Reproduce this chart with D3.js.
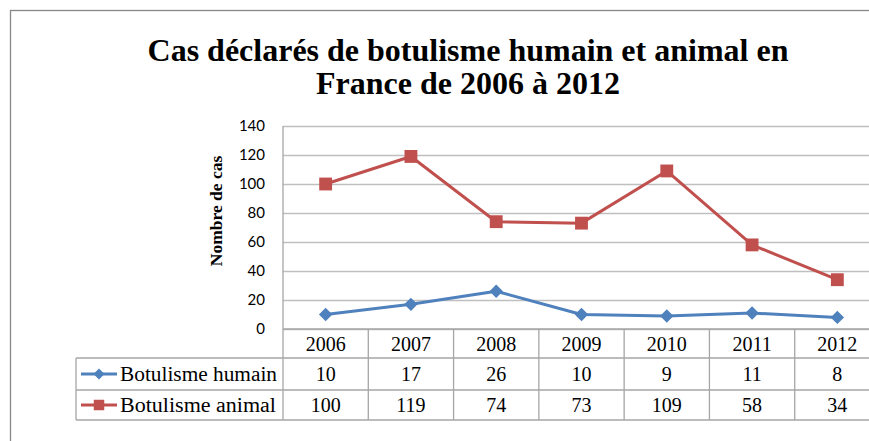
<!DOCTYPE html>
<html><head><meta charset="utf-8">
<script src="https://cdn.jsdelivr.net/npm/d3@7"></script>
<style>body{margin:0;background:#fff;overflow:hidden}svg{display:block}</style>
</head><body>
<svg id="c" width="869" height="441"></svg>
<script>
const years = ["2006","2007","2008","2009","2010","2011","2012"];
const humain = [10,17,26,10,9,11,8];
const animal = [100,119,74,73,109,58,34];
const seriesNames = ["Botulisme humain","Botulisme animal"];
const yTicks = [0,20,40,60,80,100,120,140];
const titleLines = ["Cas déclarés de botulisme humain et animal en","France de 2006 à 2012"];
const yTitle = "Nombre de cas";

const colors = ["#4f81bd","#c0504d"];
const svg = d3.select("#c");
const L = 283, R = 880, T = 126, B = 329;
const rowY = [329, 358, 390, 420];
const legendLeft = 76;
const serif = "'Liberation Serif','Times New Roman',serif";

// outer chart border
svg.append("rect").attr("x",10.5).attr("y",10.5).attr("width",900).attr("height",500)
  .attr("fill","#fff").attr("stroke","#878787").attr("stroke-width",1.3);

// title
const title = svg.append("text").attr("text-anchor","middle")
  .attr("font-family",serif).attr("font-weight","bold")
  .attr("font-size",32).attr("fill","#000");
title.selectAll("tspan").data(titleLines).join("tspan")
  .attr("x",468).attr("y",(d,i)=>61+i*33).text(d=>d);

const x = d3.scaleBand().domain(years).range([L,R]);
const y = d3.scaleLinear().domain([0,140]).range([B,T]);

// gridlines
svg.append("g").attr("transform",`translate(${L},0)`)
  .call(d3.axisLeft(y).tickValues(yTicks).tickSize(-(R-L)).tickFormat(""))
  .call(g=>g.select(".domain").remove())
  .call(g=>g.selectAll("line").attr("stroke","#bfbfbf").attr("stroke-width",1.3));

// y axis labels
svg.append("g").attr("transform",`translate(${L-18},0)`)
  .call(d3.axisLeft(y).tickValues(yTicks).tickSize(0).tickPadding(0))
  .call(g=>g.select(".domain").remove())
  .call(g=>g.selectAll("text").attr("font-family","Lato,'Open Sans',sans-serif").attr("font-size",15).attr("fill","#000"));

// y title
svg.append("text").attr("transform","translate(222,211) rotate(-90)").attr("text-anchor","middle")
  .attr("font-family",serif).attr("font-weight","bold")
  .attr("font-size",17.5).text(yTitle);

// table lines
const tbl = svg.append("g").attr("stroke","#a6a6a6").attr("stroke-width",1.3);
tbl.append("line").attr("x1",L).attr("x2",L).attr("y1",T).attr("y2",rowY[3]);
years.forEach(yr=>{
  const xr = x(yr)+x.bandwidth();
  tbl.append("line").attr("x1",xr).attr("x2",xr).attr("y1",rowY[0]).attr("y2",rowY[3]);
});
tbl.append("line").attr("x1",L).attr("x2",R).attr("y1",rowY[0]).attr("y2",rowY[0]);
[1,2,3].forEach(i=>tbl.append("line").attr("x1",legendLeft).attr("x2",R).attr("y1",rowY[i]).attr("y2",rowY[i]));
tbl.append("line").attr("x1",legendLeft).attr("x2",legendLeft).attr("y1",rowY[1]).attr("y2",rowY[3]);

// header years
svg.append("g").selectAll("text").data(years).join("text")
  .attr("x",d=>x(d)+x.bandwidth()/2).attr("y",(rowY[0]+rowY[1])/2+7)
  .attr("text-anchor","middle").attr("font-family",serif).attr("font-size",20).text(d=>d);

const marker = si => d3.symbol().type(d3.symbolSquare).size(si===0?90:165)();
const rot = si => si===0 ? " rotate(45)" : "";

const data = [humain, animal];
data.forEach((vals,si)=>{
  const cy = (rowY[si+1]+rowY[si+2])/2;
  svg.append("g").selectAll("text").data(vals).join("text")
    .attr("x",(d,i)=>x(years[i])+x.bandwidth()/2).attr("y",cy+7)
    .attr("text-anchor","middle").attr("font-family",serif).attr("font-size",20).text(d=>d);
  // legend
  svg.append("line").attr("x1",81).attr("x2",117).attr("y1",cy).attr("y2",cy)
    .attr("stroke",colors[si]).attr("stroke-width",3);
  svg.append("path").attr("transform",`translate(99,${cy})`+rot(si))
    .attr("d",d3.symbol().type(d3.symbolSquare).size(si===0?60:110)())
    .attr("fill",colors[si]);
  svg.append("text").attr("x",120).attr("y",cy+7).attr("font-family",serif).attr("font-size",20)
    .attr("textLength",si===0?157:156).attr("lengthAdjust","spacingAndGlyphs").text(seriesNames[si]);
});

// series
const line = d3.line().x((d,i)=>x(years[i])+x.bandwidth()/2).y(d=>y(d));
data.forEach((vals,si)=>{
  svg.append("path").datum(vals).attr("d",line).attr("fill","none")
    .attr("stroke",colors[si]).attr("stroke-width",3).attr("stroke-linejoin","round");
  svg.append("g").selectAll("path").data(vals).join("path")
    .attr("transform",(d,i)=>`translate(${x(years[i])+x.bandwidth()/2},${y(d)})`+rot(si))
    .attr("d",marker(si))
    .attr("fill",colors[si]);
});
</script>
</body></html>
